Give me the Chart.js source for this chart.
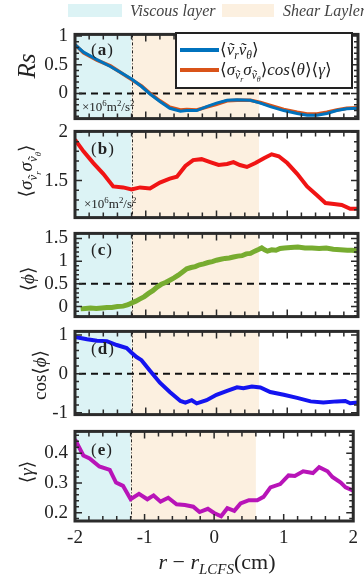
<!DOCTYPE html>
<html>
<head>
<meta charset="utf-8">
<script src="https://cdn.jsdelivr.net/npm/chart.js@4.4.1/dist/chart.umd.min.js"></script>
<style>
  body { margin: 0; background: #fff; }
  #wrap { position: relative; width: 364px; height: 577px; overflow: hidden; font-family: "Liberation Serif", "DejaVu Serif", serif; color: #222; }
  canvas { position: absolute; left: 0; }
  .ov { position: absolute; white-space: nowrap; line-height: 1; }
  .ytitle { position: absolute; white-space: nowrap; line-height: 1; transform: translate(-50%, -50%) rotate(-90deg); }
  sub, sup { font-size: 0.68em; line-height: 0; }
  .lab { font-size: 17px; letter-spacing: 1px; }
  .unit { font-size: 13px; }
  .swatch { position: absolute; height: 13px; }
</style>
</head>
<body>
<div id="wrap">
  <canvas id="pA" width="364" height="121" style="top:16px"></canvas>
  <canvas id="pB" width="364" height="123" style="top:113px"></canvas>
  <canvas id="pC" width="364" height="120" style="top:215px"></canvas>
  <canvas id="pD" width="364" height="120" style="top:313px"></canvas>
  <canvas id="pE" width="364" height="164" style="top:413px"></canvas>

  <div class="swatch" style="left:68px;top:4px;width:54px;background:#dcf3f5"></div>
  <div class="ov" style="left:130px;top:3px;font-size:16px;font-style:italic;color:#444">Viscous layer</div>
  <div class="swatch" style="left:222px;top:4px;width:52px;background:#fcf0e0"></div>
  <div class="ov" style="left:283px;top:3px;font-size:16px;font-style:italic;color:#444">Shear Layler</div>

  <div class="ov" style="left:175px;top:32px;width:174px;height:53px;border:2.5px solid #222;background:#fff">
    <div style="position:absolute;left:3px;top:14px;width:39px;height:4px;background:#0072BD"></div>
    <div class="ov" style="left:43px;top:7px;font-size:17px">⟨<i>ṽ</i><sub><i>r</i></sub><i>ṽ</i><sub><i>θ</i></sub>⟩</div>
    <div style="position:absolute;left:3px;top:34px;width:39px;height:4px;background:#D95319"></div>
    <div class="ov" style="left:43px;top:27px;font-size:17px">⟨<i>σ</i><sub><i>ṽ<sub>r</sub></i></sub><i>σ</i><sub><i>ṽ<sub>θ</sub></i></sub>⟩<i>cos</i>⟨<i>θ</i>⟩⟨<i>γ</i>⟩</div>
  </div>

  <div class="ov lab" style="left:91px;top:41px">(<b>a</b>)</div>
  <div class="ov lab" style="left:91px;top:140px">(<b>b</b>)</div>
  <div class="ov lab" style="left:91px;top:241px">(<b>c</b>)</div>
  <div class="ov lab" style="left:91px;top:340px">(<b>d</b>)</div>
  <div class="ov lab" style="left:91px;top:441px">(<b>e</b>)</div>

  <div class="ov unit" style="left:82px;top:100px">×10<sup>6</sup>m<sup>2</sup>/s<sup>2</sup></div>
  <div class="ov unit" style="left:84px;top:197px">×10<sup>6</sup>m<sup>2</sup>/s<sup>2</sup></div>

  <div class="ytitle" style="left:26px;top:66px;font-size:25px;font-style:italic">Rs</div>
  <div class="ytitle" style="left:27px;top:171px;font-size:19px">⟨<i>σ</i><sub><i>ṽ<sub>r</sub></i></sub><i>σ</i><sub><i>ṽ<sub>θ</sub></i></sub>⟩</div>
  <div class="ytitle" style="left:27px;top:279px;font-size:19px">⟨<i>ϕ</i>⟩</div>
  <div class="ytitle" style="left:39px;top:375px;font-size:19px">cos⟨<i>ϕ</i>⟩</div>
  <div class="ytitle" style="left:26px;top:472px;font-size:19px">⟨<i>γ</i>⟩</div>

  <div class="ov" style="left:217px;top:551px;font-size:22px;transform:translateX(-50%)"><i>r</i> − <i>r</i><sub><i>LCFS</i></sub>(cm)</div>
</div>

<script>
// shaded layers: viscous from -2 to -1.2, shear from -1.2 to 0.6
const LAYER_EDGES = [-2, -1.2, 0.6];
const LAYER_COLORS = ["#dcf3f5", "#fcf0e0"];

// (a) Reynolds stress
const xA = [-2, -1.88, -1.69, -1.5, -1.36, -1.2, -1.06, -0.94, -0.8, -0.66, -0.51, -0.42, -0.28, -0.14, 0, 0.15, 0.29, 0.48, 0.62, 0.76, 0.95, 1.14, 1.28, 1.42, 1.56, 1.7, 1.84, 2];
const rsOrange = [0.85, 0.71, 0.58, 0.48, 0.37, 0.24, 0.13, 0.0, -0.13, -0.24, -0.29, -0.28, -0.29, -0.24, -0.19, -0.13, -0.12, -0.12, -0.16, -0.21, -0.28, -0.33, -0.36, -0.36, -0.33, -0.29, -0.26, -0.25];
const rsBlue = [0.85, 0.72, 0.59, 0.47, 0.37, 0.25, 0.12, -0.01, -0.14, -0.26, -0.31, -0.3, -0.3, -0.23, -0.17, -0.12, -0.11, -0.12, -0.17, -0.23, -0.3, -0.35, -0.38, -0.38, -0.35, -0.3, -0.27, -0.26];

// (b) sigma product
const xB = [-2, -1.88, -1.74, -1.6, -1.46, -1.32, -1.2, -1.08, -0.94, -0.8, -0.66, -0.56, -0.44, -0.33, -0.21, -0.09, 0.03, 0.15, 0.24, 0.33, 0.43, 0.55, 0.67, 0.78, 0.88, 1.0, 1.14, 1.28, 1.42, 1.54, 1.66, 1.77, 1.89, 2];
const sigma = [1.92, 1.8, 1.68, 1.57, 1.44, 1.43, 1.41, 1.43, 1.42, 1.48, 1.52, 1.54, 1.65, 1.71, 1.72, 1.69, 1.66, 1.67, 1.69, 1.66, 1.64, 1.68, 1.73, 1.77, 1.75, 1.68, 1.57, 1.44, 1.35, 1.27, 1.26, 1.25, 1.21, 1.21];

// (c) mean phase
const xC = [-1.92, -1.85, -1.78, -1.7, -1.62, -1.55, -1.48, -1.4, -1.32, -1.25, -1.2, -1.14, -1.08, -1.02, -0.96, -0.9, -0.84, -0.78, -0.72, -0.66, -0.6, -0.54, -0.48, -0.42, -0.36, -0.3, -0.24, -0.18, -0.12, -0.06, 0, 0.06, 0.12, 0.18, 0.24, 0.3, 0.36, 0.42, 0.48, 0.54, 0.6, 0.64, 0.68, 0.72, 0.78, 0.84, 0.9, 0.96, 1.05, 1.15, 1.25, 1.35, 1.45, 1.55, 1.65, 1.75, 1.85, 1.92, 2];
const phase = [-0.05, -0.04, -0.03, -0.04, -0.03, -0.02, -0.02, 0.0, 0.01, 0.04, 0.08, 0.12, 0.17, 0.22, 0.29, 0.35, 0.43, 0.49, 0.53, 0.58, 0.63, 0.69, 0.76, 0.83, 0.86, 0.88, 0.92, 0.94, 0.97, 0.99, 1.02, 1.04, 1.06, 1.07, 1.09, 1.11, 1.12, 1.16, 1.17, 1.22, 1.26, 1.29, 1.25, 1.22, 1.25, 1.24, 1.28, 1.29, 1.3, 1.31, 1.29, 1.29, 1.28, 1.29, 1.26, 1.25, 1.24, 1.24, 1.22];

// (d) cos of mean phase
const xD = [-2, -1.83, -1.69, -1.55, -1.41, -1.27, -1.2, -1.13, -1.06, -0.94, -0.8, -0.66, -0.51, -0.44, -0.35, -0.28, -0.14, 0, 0.15, 0.29, 0.38, 0.5, 0.62, 0.76, 0.95, 1.14, 1.33, 1.51, 1.7, 1.82, 1.89, 2];
const cosPhase = [0.95, 0.89, 0.85, 0.84, 0.74, 0.66, 0.54, 0.43, 0.35, 0.08, -0.23, -0.47, -0.7, -0.74, -0.68, -0.76, -0.68, -0.54, -0.44, -0.35, -0.37, -0.33, -0.35, -0.47, -0.54, -0.62, -0.71, -0.74, -0.71, -0.7, -0.76, -0.74];

// (e) coherence
const xE = [-2, -1.88, -1.79, -1.65, -1.5, -1.41, -1.31, -1.2, -1.08, -0.96, -0.87, -0.77, -0.66, -0.54, -0.42, -0.3, -0.21, -0.09, 0, 0.1, 0.19, 0.29, 0.38, 0.5, 0.62, 0.71, 0.81, 0.95, 1.07, 1.16, 1.28, 1.42, 1.51, 1.63, 1.7, 1.82, 1.89, 2];
const gamma = [0.446, 0.392, 0.382, 0.355, 0.344, 0.301, 0.29, 0.245, 0.263, 0.245, 0.258, 0.237, 0.25, 0.228, 0.226, 0.22, 0.202, 0.213, 0.199, 0.188, 0.215, 0.206, 0.231, 0.242, 0.242, 0.253, 0.285, 0.296, 0.325, 0.323, 0.339, 0.333, 0.353, 0.339, 0.32, 0.301, 0.285, 0.274];

const xTickLabels = [-2, -1, 0, 1, 2];

const FONT = "'Liberation Serif', 'DejaVu Serif', serif";

const panelDeco = {
  id: "panelDeco",
  beforeDatasetsDraw(chart, args, opts) {
    const { ctx, chartArea: a, scales } = chart;
    const x = scales.x, y = scales.y;
    ctx.save();
    for (let i = 0; i < LAYER_COLORS.length; i++) {
      const x0 = x.getPixelForValue(LAYER_EDGES[i]);
      const x1 = x.getPixelForValue(LAYER_EDGES[i + 1]);
      ctx.fillStyle = LAYER_COLORS[i];
      ctx.fillRect(x0, a.top, x1 - x0, a.height);
    }
    if (opts.hline !== undefined) {
      const py = y.getPixelForValue(opts.hline);
      ctx.strokeStyle = "#111";
      ctx.lineWidth = 2;
      ctx.setLineDash([7, 5]);
      ctx.beginPath();
      ctx.moveTo(a.left + 4, py);
      ctx.lineTo(a.right - 4, py);
      ctx.stroke();
    }
    const vx = Math.round(x.getPixelForValue(LAYER_EDGES[1])) + 0.5;
    ctx.strokeStyle = "#222";
    ctx.lineWidth = 1;
    ctx.setLineDash([3, 2, 1, 2]);
    ctx.beginPath();
    ctx.moveTo(vx, a.top);
    ctx.lineTo(vx, a.bottom);
    ctx.stroke();
    ctx.restore();
  },
  afterDatasetsDraw(chart, args, opts) {
    const { ctx, chartArea: a, scales } = chart;
    const x = scales.x, y = scales.y;
    ctx.save();
    ctx.strokeStyle = "#2a2a2a";
    ctx.lineWidth = 1.5;
    const near = (v, s) => Math.abs(v / s - Math.round(v / s)) < 1e-6;
    // x ticks, top and bottom, inward
    for (let v = -2; v <= 2.0001; v += 0.2) {
      const px = x.getPixelForValue(v);
      const len = near(v, 1) ? 7 : 5;
      ctx.beginPath();
      ctx.moveTo(px, a.bottom); ctx.lineTo(px, a.bottom - len);
      ctx.moveTo(px, a.top); ctx.lineTo(px, a.top + len);
      ctx.stroke();
    }
    // y ticks, left and right, inward
    const step = opts.minor, major = opts.major;
    for (let v = Math.ceil(y.min / step) * step; v <= y.max + 1e-9; v += step) {
      const py = y.getPixelForValue(v);
      const len = near(v, major) ? 7 : 4;
      ctx.beginPath();
      ctx.moveTo(a.left, py); ctx.lineTo(a.left + len, py);
      ctx.moveTo(a.right, py); ctx.lineTo(a.right - len, py);
      ctx.stroke();
    }
    ctx.lineWidth = 3;
    ctx.strokeStyle = "#2b2b2b";
    ctx.setLineDash([]);
    ctx.strokeRect(a.left, a.top, a.width, a.height);
    ctx.restore();
  },
};

function makePanel(id, cfg) {
  const canvas = document.getElementById(id);
  const showX = !!cfg.showX;
  new Chart(canvas.getContext("2d"), {
    type: "line",
    data: {
      datasets: cfg.series.map((s) => ({
        data: s.x.map((xv, i) => ({ x: xv, y: s.y[i] })),
        borderColor: s.color,
        borderWidth: s.width,
        pointRadius: 0,
        tension: 0,
        fill: false,
      })),
    },
    options: {
      responsive: false,
      animation: false,
      devicePixelRatio: 1,
      layout: { padding: { left: 0, right: 6, top: 14, bottom: cfg.padBottom } },
      plugins: {
        legend: { display: false },
        tooltip: { enabled: false },
        panelDeco: { hline: cfg.hline, minor: cfg.minor, major: cfg.major },
      },
      scales: {
        x: {
          type: "linear",
          min: -2,
          max: 2,
          display: showX,
          afterFit: (s) => { if (showX) s.height = 30; },
          afterBuildTicks: (s) => { s.ticks = xTickLabels.map((v) => ({ value: v })); },
          grid: { display: false, drawTicks: false },
          border: { display: false },
          ticks: {
            padding: 6,
            color: "#222",
            maxRotation: 0,
            font: { family: FONT, size: 19 },
            callback: (v) => String(v),
          },
        },
        y: {
          min: cfg.min,
          max: cfg.max,
          afterFit: (s) => { s.width = 75; },
          afterBuildTicks: (s) => { s.ticks = cfg.ticks.map((v) => ({ value: v })); },
          grid: { display: false, drawTicks: false },
          border: { display: false },
          ticks: {
            padding: 7,
            color: "#222",
            font: { family: FONT, size: 19 },
            callback: (v) => String(v),
          },
        },
      },
    },
    plugins: [panelDeco],
  });
}

document.addEventListener("DOMContentLoaded", () => {
  makePanel("pA", {
    min: -0.44, max: 1.03, ticks: [0, 0.5, 1], minor: 0.1, major: 0.5, hline: 0, padBottom: 14,
    series: [
      { x: xA, y: rsBlue, color: "#0072BD", width: 3 },
      { x: xA, y: rsOrange, color: "#D95319", width: 3.5 },
    ],
  });
  makePanel("pB", {
    min: 1.12, max: 2.005, ticks: [1.5, 2], minor: 0.1, major: 0.5, padBottom: 14,
    series: [{ x: xB, y: sigma, color: "#f01414", width: 4 }],
  });
  makePanel("pC", {
    min: -0.22, max: 1.61, ticks: [0, 0.5, 1, 1.5], minor: 0.1, major: 0.5, hline: 0.5, padBottom: 14,
    series: [{ x: xC, y: phase, color: "#77AC30", width: 5 }],
  });
  makePanel("pD", {
    min: -1.05, max: 1.09, ticks: [-1, 0, 1], minor: 0.2, major: 1, hline: 0, padBottom: 14,
    series: [{ x: xD, y: cosPhase, color: "#1414f0", width: 4 }],
  });
  makePanel("pE", {
    min: 0.172, max: 0.473, ticks: [0.2, 0.3, 0.4], minor: 0.02, major: 0.1, padBottom: 26, showX: true,
    series: [{ x: xE, y: gamma, color: "#b814b8", width: 4 }],
  });
});
</script>
</body>
</html>
